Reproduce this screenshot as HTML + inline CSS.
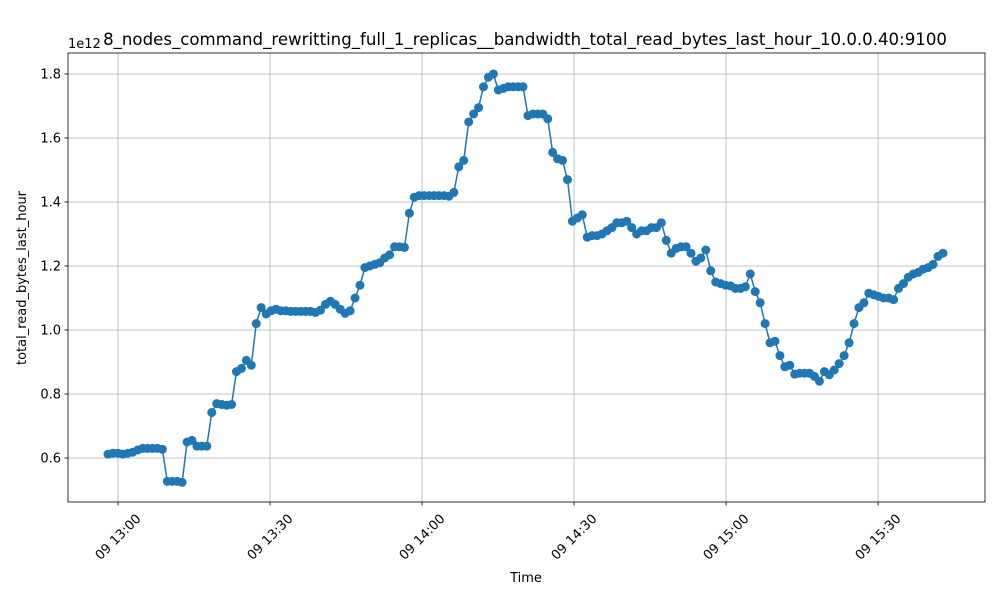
<!DOCTYPE html>
<html><head><meta charset="utf-8"><style>
body{margin:0;background:#fff;font-family:"DejaVu Sans","Liberation Sans",sans-serif}
</style></head><body>
<svg id="chart" width="1000" height="600" xmlns="http://www.w3.org/2000/svg" font-family="DejaVu Sans, Liberation Sans, sans-serif">
<rect width="1000" height="600" fill="#fff"/>
<g id="grid"></g><g id="axes"></g><g id="series"></g>
<text x="525" y="45" text-anchor="middle" font-size="16.6">8_nodes_command_rewritting_full_1_replicas__bandwidth_total_read_bytes_last_hour_10.0.0.40:9100</text>
<text x="68" y="48" font-size="13">1e12</text>
<text x="526" y="582" text-anchor="middle" font-size="13">Time</text>
<text transform="translate(26,278) rotate(-90)" text-anchor="middle" font-size="13">total_read_bytes_last_hour</text>
</svg>
<script>
const values=[0.612,0.615,0.615,0.612,0.615,0.618,0.625,0.63,0.63,0.63,0.63,0.627,0.527,0.527,0.527,0.524,0.65,0.655,0.637,0.637,0.637,0.742,0.77,0.767,0.765,0.767,0.87,0.88,0.905,0.89,1.02,1.07,1.05,1.06,1.065,1.06,1.06,1.058,1.058,1.058,1.058,1.058,1.055,1.062,1.08,1.09,1.08,1.065,1.052,1.06,1.10,1.14,1.195,1.2,1.205,1.21,1.225,1.235,1.26,1.26,1.258,1.365,1.415,1.42,1.42,1.42,1.42,1.42,1.42,1.418,1.43,1.51,1.53,1.65,1.675,1.695,1.76,1.79,1.80,1.75,1.755,1.76,1.76,1.76,1.76,1.67,1.675,1.675,1.675,1.66,1.555,1.535,1.53,1.47,1.34,1.35,1.36,1.29,1.295,1.295,1.30,1.31,1.32,1.335,1.335,1.34,1.32,1.30,1.31,1.31,1.32,1.32,1.335,1.28,1.24,1.255,1.26,1.26,1.24,1.215,1.225,1.25,1.185,1.15,1.145,1.14,1.138,1.13,1.13,1.135,1.175,1.12,1.085,1.02,0.96,0.965,0.92,0.885,0.89,0.862,0.865,0.865,0.865,0.855,0.84,0.87,0.86,0.875,0.895,0.92,0.96,1.02,1.07,1.085,1.115,1.11,1.105,1.10,1.10,1.095,1.13,1.145,1.165,1.175,1.18,1.19,1.195,1.205,1.23,1.24];
const startMin=-1.97, endMin=162.8; // minutes relative to 13:00
const yTicks=[0.6,0.8,1.0,1.2,1.4,1.6,1.8];
const yTickLabels=["0.6","0.8","1.0","1.2","1.4","1.6","1.8"];
const xTicks=[0,30,60,90,120,150];
const xTickLabels=["09 13:00","09 13:30","09 14:00","09 14:30","09 15:00","09 15:30"];
const L=68,R=985,T=53,B=502;
const xMin=-9.87,xMax=171.1,yMin=0.4625,yMax=1.8656;
const X=t=>L+(t-xMin)/(xMax-xMin)*(R-L);
const Y=v=>B-(v-yMin)/(yMax-yMin)*(B-T);
const NS="http://www.w3.org/2000/svg";
function mk(tag,attrs,parent){const e=document.createElementNS(NS,tag);for(const k in attrs)e.setAttribute(k,attrs[k]);parent.appendChild(e);return e;}
const grid=document.getElementById('grid'),axes=document.getElementById('axes'),ser=document.getElementById('series');
yTicks.forEach((v,i)=>{const y=Y(v);
 const g=mk('line',{x1:L,x2:R,y1:y,y2:y,stroke:'#b0b0b0','stroke-width':0.8},grid);
 
 
 mk('line',{x1:L-3.5,x2:L,y1:y,y2:y,stroke:'#000','stroke-width':0.8},axes);
 const t=mk('text',{x:L-7,y:y+4.5,'text-anchor':'end','font-size':13},axes);t.textContent=yTickLabels[i];
 
 });
xTicks.forEach((m,i)=>{const x=X(m);
 const g=mk('line',{x1:x,x2:x,y1:T,y2:B,stroke:'#b0b0b0','stroke-width':0.8},grid);
 
 
 mk('line',{x1:x,x2:x,y1:B,y2:B+3.5,stroke:'#000','stroke-width':0.8},axes);
 const t=mk('text',{'text-anchor':'middle','font-size':13,transform:`translate(${x+3},${B+38}) rotate(-45)`},axes);t.textContent=xTickLabels[i];
 
 });
const frame=mk('rect',{x:L,y:T,width:R-L,height:B-T,fill:'none',stroke:'#000','stroke-width':0.8},axes);


const n=values.length,step=(endMin-startMin)/(n-1);
const pts=values.map((v,i)=>[X(startMin+i*step),Y(v)]);
const line=mk('polyline',{points:pts.map(p=>p.join(',')).join(' '),fill:'none',stroke:'#1f77b4','stroke-width':1.5},ser);


pts.forEach(p=>{const c=mk('circle',{cx:p[0],cy:p[1],r:4.5,fill:'#1f77b4'},ser);
 
 });
</script>
</body></html>
